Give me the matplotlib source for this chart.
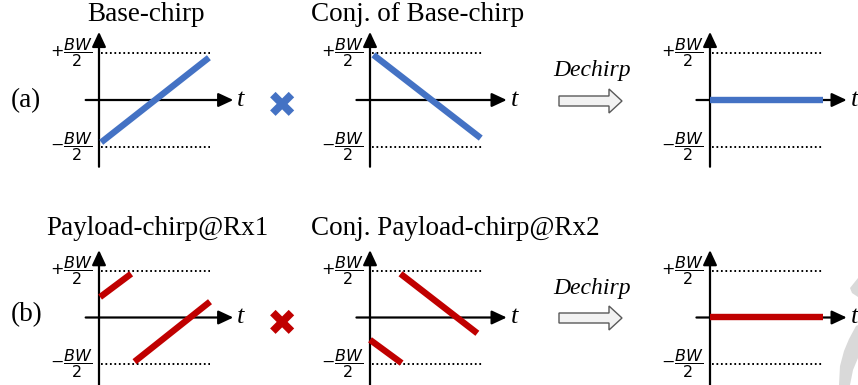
import matplotlib
matplotlib.use("Agg")
import matplotlib.pyplot as plt
from matplotlib.patches import Polygon

plt.rcParams["mathtext.fontset"] = "dejavusans"

W, H = 858, 385
BLUE = "#4472C4"
RED = "#C00000"

# Chirp segments: time normalised to one symbol (0..1), frequency in units of BW/2
base_t = [0.02, 0.99]
base_f = [-0.90, 0.90]
conj_base_t = [0.03, 0.98]
conj_base_f = [0.96, -0.81]
dechirp_t = [0.0, 1.0]
dechirp_f = [0.0, 0.0]

payload_seg1_t = [0.01, 0.29]
payload_seg1_f = [0.44, 0.94]
payload_seg2_t = [0.32, 1.00]
payload_seg2_f = [-0.95, 0.34]

conj_payload_seg1_t = [0.27, 0.95]
conj_payload_seg1_f = [0.94, -0.34]
conj_payload_seg2_t = [0.00, 0.28]
conj_payload_seg2_f = [-0.48, -0.98]

titles_a = ["Base-chirp", "Conj. of Base-chirp"]
titles_b = ["Payload-chirp@Rx1", "Conj. Payload-chirp@Rx2"]
row_labels = ["(a)", "(b)"]
op_label = "Dechirp"

fig = plt.figure(figsize=(W / 100, H / 100), dpi=100)

# overlay in pixel coordinates for free-standing text and the block arrows
ov = fig.add_axes([0, 0, 1, 1])
ov.set_xlim(0, W)
ov.set_ylim(H, 0)
ov.axis("off")

COLS = [(99, 210), (370, 483), (710, 823)]
ROWS = [(53, 147), (271, 364)]
TLIM = (-0.5, 1.6)
FLIM = (-1.7, 1.7)


def panel(col, row, fbot):
    t0, t1 = COLS[col]
    ytop, ybot = ROWS[row]
    sx = t1 - t0
    sy = (ybot - ytop) / 2
    yc = (ytop + ybot) / 2
    left = t0 + TLIM[0] * sx
    width = (TLIM[1] - TLIM[0]) * sx
    top = yc - FLIM[1] * sy
    height = (FLIM[1] - FLIM[0]) * sy
    ax = fig.add_axes([left / W, 1 - (top + height) / H, width / W, height / H])
    ax.set_xlim(*TLIM)
    ax.set_ylim(*FLIM)
    ax.axis("off")
    ax.patch.set_alpha(0)
    arrow = dict(arrowstyle="-|>,head_length=0.9,head_width=0.42", lw=1.6,
                 color="black", shrinkA=0, shrinkB=0, mutation_scale=10)
    ax.annotate("", xy=(1.21, 0), xytext=(-0.12, 0), arrowprops=arrow,
                annotation_clip=False)
    ax.annotate("", xy=(0, 1.45), xytext=(0, fbot), arrowprops=arrow,
                annotation_clip=False)
    for lvl in (1, -1):
        ax.plot([0.02, 1.0], [lvl, lvl], color="black", lw=1.4,
                ls=(0, (0.9, 1.4)), clip_on=False)
    ax.text(-0.055, 1, r"$+\dfrac{BW}{2}$", ha="right", va="center", fontsize=11.5)
    ax.text(-0.055, -1, r"$-\dfrac{BW}{2}$", ha="right", va="center", fontsize=11.5)
    ax.text(1.245, 0, "t", ha="left", va="center", fontsize=19,
            family="Liberation Serif", style="italic")
    return ax


def chirp(ax, t, f, color):
    ax.plot(t, f, color=color, lw=4.6, solid_capstyle="butt", clip_on=False,
            zorder=5)


# row (a)
a1 = panel(0, 0, -1.42)
chirp(a1, base_t, base_f, BLUE)
a2 = panel(1, 0, -1.42)
chirp(a2, conj_base_t, conj_base_f, BLUE)
a3 = panel(2, 0, -1.42)
chirp(a3, dechirp_t, dechirp_f, BLUE)

# row (b)
b1 = panel(0, 1, -1.6)
chirp(b1, payload_seg1_t, payload_seg1_f, RED)
chirp(b1, payload_seg2_t, payload_seg2_f, RED)
b2 = panel(1, 1, -1.6)
chirp(b2, conj_payload_seg1_t, conj_payload_seg1_f, RED)
chirp(b2, conj_payload_seg2_t, conj_payload_seg2_f, RED)
b3 = panel(2, 1, -1.6)
chirp(b3, dechirp_t, dechirp_f, RED)

serif = dict(family="Liberation Serif", color="black")
TS = 19.5
ov.text(146, 21, titles_a[0], ha="center", va="baseline", fontsize=TS, **serif)
ov.text(418, 21, titles_a[1], ha="center", va="baseline", fontsize=TS, **serif)
ov.text(157, 235, titles_b[0], ha="center", va="baseline", fontsize=TS, **serif)
ov.text(455, 235, titles_b[1], ha="center", va="baseline", fontsize=TS, **serif)
ov.text(11, 107, row_labels[0], ha="left", va="baseline", fontsize=TS, **serif)
ov.text(11, 321, row_labels[1], ha="left", va="baseline", fontsize=TS, **serif)

# multiplication signs
ov.text(282, 107, "\u2716", ha="center", va="center", fontsize=26, color=BLUE,
        family="DejaVu Sans")
ov.text(282, 325, "\u2716", ha="center", va="center", fontsize=26, color=RED,
        family="DejaVu Sans")


def block_arrow(xc, yc):
    x0, xh, x1 = xc - 31.5, xc + 18.5, xc + 31.5
    pts = [(x0, yc - 5), (xh, yc - 5), (xh, yc - 12), (x1, yc), (xh, yc + 12),
           (xh, yc + 5), (x0, yc + 5)]
    ov.add_patch(Polygon(pts, closed=True, facecolor="#F2F2F2",
                         edgecolor="#595959", lw=1.0))


for yc_arrow, y_text in ((101, 76), (318, 294)):
    block_arrow(590.5, yc_arrow)
    ov.text(592, y_text, op_label, ha="center", va="baseline", fontsize=17,
            family="Liberation Serif", style="italic")

# faint grey mark in the lower right corner
ov.add_patch(Polygon([(850, 288), (858, 278), (858, 297), (852, 293)],
                     closed=True, facecolor="#D9D9D9", edgecolor="none"))
ov.add_patch(Polygon([(856, 326), (858, 325), (858, 358), (853, 370),
                      (850, 385), (839, 385), (840, 366), (844, 351),
                      (849, 339)],
                     closed=True, facecolor="#D9D9D9", edgecolor="none"))

fig.savefig("out.png", dpi=100)
